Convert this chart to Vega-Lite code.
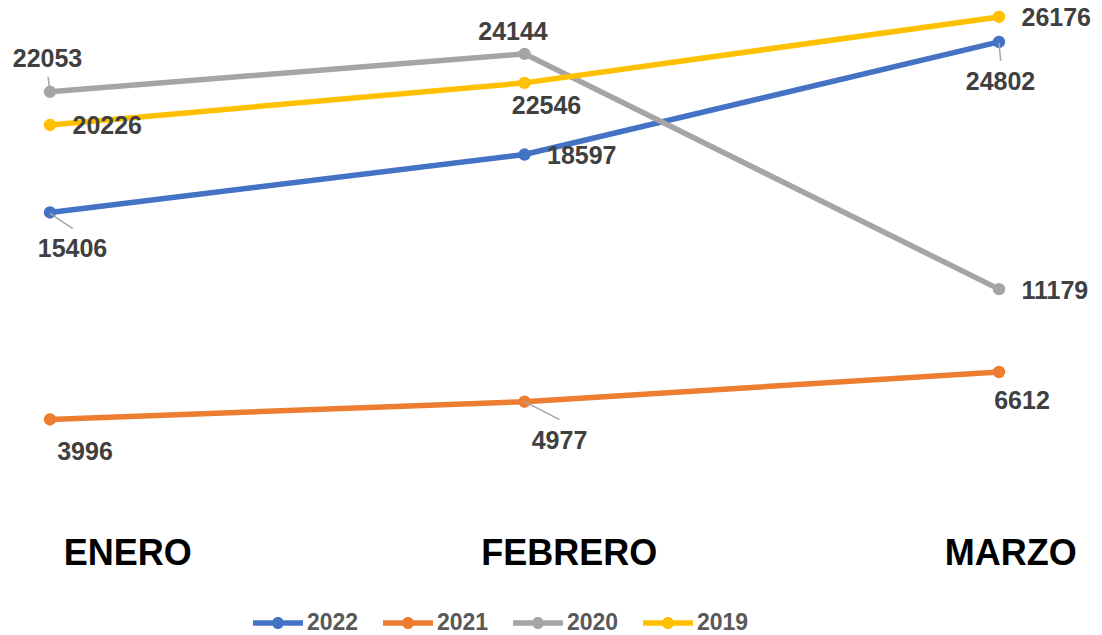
{
  "$schema": "https://vega.github.io/schema/vega-lite/v6.json",
  "width": 1049,
  "height": 492,
  "autosize": {"type": "none"},
  "padding": {"left": 0, "top": 0, "right": 53, "bottom": 143},
  "background": "white",
  "config": {"view": {"stroke": null}},
  "data": {
    "values": [
      {"anio": "2022", "mes": "ENERO", "valor": 15406},
      {"anio": "2022", "mes": "FEBRERO", "valor": 18597},
      {"anio": "2022", "mes": "MARZO", "valor": 24802},
      {"anio": "2021", "mes": "ENERO", "valor": 3996},
      {"anio": "2021", "mes": "FEBRERO", "valor": 4977},
      {"anio": "2021", "mes": "MARZO", "valor": 6612},
      {"anio": "2020", "mes": "ENERO", "valor": 22053},
      {"anio": "2020", "mes": "FEBRERO", "valor": 24144},
      {"anio": "2020", "mes": "MARZO", "valor": 11179},
      {"anio": "2019", "mes": "ENERO", "valor": 20226},
      {"anio": "2019", "mes": "FEBRERO", "valor": 22546},
      {"anio": "2019", "mes": "MARZO", "valor": 26176}
    ]
  },
  "layer": [
    {
      "encoding": {
        "x": {"field": "mes", "type": "ordinal", "sort": ["ENERO", "FEBRERO", "MARZO"], "scale": {"type": "point", "padding": 0.10537}, "axis": null},
        "y": {"field": "valor", "type": "quantitative", "scale": {"domain": [0, 27112], "nice": false, "zero": true}, "axis": null}
      },
      "layer": [
        {
          "mark": {"type": "line", "strokeWidth": 5.5},
          "encoding": {
            "color": {
              "field": "anio", "type": "nominal",
              "scale": {"domain": ["2022", "2021", "2020", "2019"], "range": ["#4472C4", "#ED7D31", "#A5A5A5", "#FFC000"]},
              "legend": {
                "orient": "none", "legendX": 253, "legendY": 598, "direction": "horizontal", "columns": 4,
                "title": null, "padding": 0,
                "symbolType": "M-1,-0.11L1,-0.11L1,0.11L-1,0.11Z M0.24,0A0.24,0.24,0,1,1,-0.24,0A0.24,0.24,0,1,1,0.24,0Z",
                "symbolSize": 2500, "symbolStrokeWidth": 0, "symbolOpacity": 1,
                "labelOffset": 4, "columnPadding": 24, "rowPadding": 0,
                "labelFont": "Liberation Sans", "labelFontWeight": "bold", "labelFontSize": 23, "labelColor": "#595959",
                "encode": {"symbols": {"update": {"fill": {"scale": "color", "field": "value"}, "stroke": {"value": "transparent"}}}}
              }
            }
          }
        },
        {
          "mark": {"type": "circle", "size": 154, "opacity": 1},
          "encoding": {"color": {"field": "anio", "type": "nominal"}}
        },
        {
          "transform": [{"filter": "datum.anio=='2020' && datum.mes=='ENERO'"}],
          "mark": {"type": "rule", "color": "#A6A6A6", "strokeWidth": 1.5, "xOffset": -2, "yOffset": -15, "x2Offset": -0.5, "y2Offset": -5},
          "encoding": {"x2": {"field": "mes"}, "y2": {"field": "valor"}}
        },
        {
          "transform": [{"filter": "datum.anio=='2022' && datum.mes=='ENERO'"}],
          "mark": {"type": "rule", "color": "#A6A6A6", "strokeWidth": 1.5, "xOffset": 0, "yOffset": 1, "x2Offset": 22.7, "y2Offset": 16.3},
          "encoding": {"x2": {"field": "mes"}, "y2": {"field": "valor"}}
        },
        {
          "transform": [{"filter": "datum.anio=='2022' && datum.mes=='MARZO'"}],
          "mark": {"type": "rule", "color": "#A6A6A6", "strokeWidth": 1.5, "xOffset": 0, "yOffset": 1, "x2Offset": 1.7, "y2Offset": 19},
          "encoding": {"x2": {"field": "mes"}, "y2": {"field": "valor"}}
        },
        {
          "transform": [{"filter": "datum.anio=='2021' && datum.mes=='FEBRERO'"}],
          "mark": {"type": "rule", "color": "#A6A6A6", "strokeWidth": 1.5, "xOffset": 0, "yOffset": 0, "x2Offset": 35, "y2Offset": 18},
          "encoding": {"x2": {"field": "mes"}, "y2": {"field": "valor"}}
        },
        {
          "transform": [{"filter": "indexof(['2019|ENERO','2022|FEBRERO','2019|MARZO','2020|MARZO'], datum.anio + '|' + datum.mes) >= 0"}],
          "mark": {"type": "text", "font": "Liberation Sans", "fontWeight": "bold", "fontSize": 25, "fill": "#404040", "baseline": "alphabetic", "align": "left", "dx": 22.5, "dy": 9.5},
          "encoding": {"text": {"field": "valor", "type": "quantitative", "format": "d"}}
        },
        {
          "transform": [{"filter": "datum.anio=='2020' && datum.mes=='ENERO'"}],
          "mark": {"type": "text", "font": "Liberation Sans", "fontWeight": "bold", "fontSize": 25, "fill": "#404040", "baseline": "alphabetic", "align": "center", "dx": -2.5, "dy": -24.5},
          "encoding": {"text": {"field": "valor", "type": "quantitative", "format": "d"}}
        },
        {
          "transform": [{"filter": "datum.anio=='2020' && datum.mes=='FEBRERO'"}],
          "mark": {"type": "text", "font": "Liberation Sans", "fontWeight": "bold", "fontSize": 25, "fill": "#404040", "baseline": "alphabetic", "align": "center", "dx": -11.5, "dy": -13.5},
          "encoding": {"text": {"field": "valor", "type": "quantitative", "format": "d"}}
        },
        {
          "transform": [{"filter": "datum.anio=='2022' && datum.mes=='ENERO'"}],
          "mark": {"type": "text", "font": "Liberation Sans", "fontWeight": "bold", "fontSize": 25, "fill": "#404040", "baseline": "alphabetic", "align": "center", "dx": 22.5, "dy": 44.5},
          "encoding": {"text": {"field": "valor", "type": "quantitative", "format": "d"}}
        },
        {
          "transform": [{"filter": "datum.anio=='2019' && datum.mes=='FEBRERO'"}],
          "mark": {"type": "text", "font": "Liberation Sans", "fontWeight": "bold", "fontSize": 25, "fill": "#404040", "baseline": "alphabetic", "align": "center", "dx": 22, "dy": 31.5},
          "encoding": {"text": {"field": "valor", "type": "quantitative", "format": "d"}}
        },
        {
          "transform": [{"filter": "datum.anio=='2022' && datum.mes=='MARZO'"}],
          "mark": {"type": "text", "font": "Liberation Sans", "fontWeight": "bold", "fontSize": 25, "fill": "#404040", "baseline": "alphabetic", "align": "center", "dx": 1.5, "dy": 48},
          "encoding": {"text": {"field": "valor", "type": "quantitative", "format": "d"}}
        },
        {
          "transform": [{"filter": "datum.anio=='2021' && datum.mes=='MARZO'"}],
          "mark": {"type": "text", "font": "Liberation Sans", "fontWeight": "bold", "fontSize": 25, "fill": "#404040", "baseline": "alphabetic", "align": "center", "dx": 23, "dy": 37},
          "encoding": {"text": {"field": "valor", "type": "quantitative", "format": "d"}}
        },
        {
          "transform": [{"filter": "datum.anio=='2021' && datum.mes=='ENERO'"}],
          "mark": {"type": "text", "font": "Liberation Sans", "fontWeight": "bold", "fontSize": 25, "fill": "#404040", "baseline": "alphabetic", "align": "center", "dx": 35, "dy": 41},
          "encoding": {"text": {"field": "valor", "type": "quantitative", "format": "d"}}
        },
        {
          "transform": [{"filter": "datum.anio=='2021' && datum.mes=='FEBRERO'"}],
          "mark": {"type": "text", "font": "Liberation Sans", "fontWeight": "bold", "fontSize": 25, "fill": "#404040", "baseline": "alphabetic", "align": "center", "dx": 35, "dy": 47},
          "encoding": {"text": {"field": "valor", "type": "quantitative", "format": "d"}}
        }
      ]
    },
    {
      "mark": {"type": "point", "opacity": 0},
      "encoding": {
        "x": {
          "field": "mes", "type": "ordinal", "sort": ["ENERO", "FEBRERO", "MARZO"],
          "scale": {"type": "point", "padding": 0.188, "align": 0.766},
          "axis": {
            "title": null, "domain": false, "ticks": false, "tickSize": 0, "grid": false,
            "labelPadding": 72, "labelBaseline": "alphabetic", "labelAngle": 0, "labelOverlap": false,
            "labelFont": "Liberation Sans", "labelFontWeight": "bold", "labelFontSize": 36, "labelColor": "#000000"
          }
        }
      }
    }
  ],
  "resolve": {"scale": {"x": "independent"}, "axis": {"x": "independent"}}
}
